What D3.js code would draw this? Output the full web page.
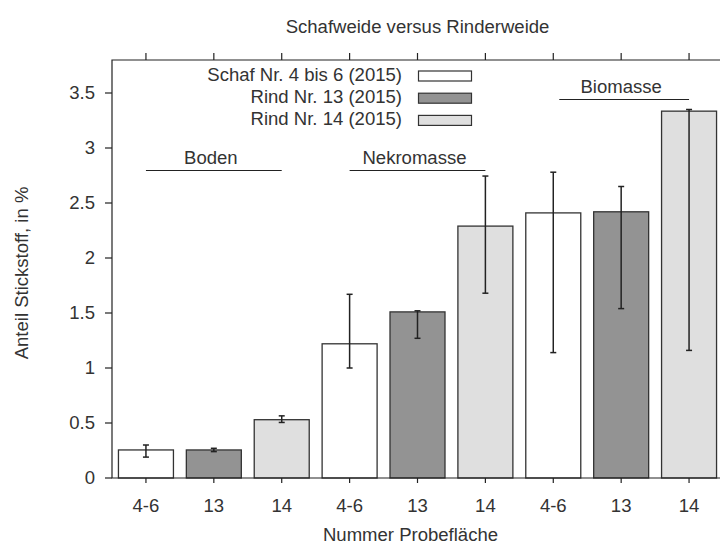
<!DOCTYPE html>
<html><head><meta charset="utf-8">
<script src="https://cdn.jsdelivr.net/npm/d3@7"></script>
<style>
html,body{margin:0;padding:0;background:#fff;}
text{font-family:"Liberation Sans",Arial,sans-serif;fill:#333;}
</style></head>
<body><svg id="chart" width="720" height="546"></svg>
<script>
const title = "Schafweide versus Rinderweide";
const xTitle = "Nummer Probefläche";
const yTitle = "Anteil Stickstoff, in %";
const categories = ["4-6","13","14","4-6","13","14","4-6","13","14"];
const seriesNames = ["Schaf Nr. 4 bis 6 (2015)","Rind Nr. 13 (2015)","Rind Nr. 14 (2015)"];
const seriesColors = ["#ffffff","#939393","#dfdfdf"];
const groupNames = ["Boden","Nekromasse","Biomasse"];
const values  = [0.255, 0.255, 0.53, 1.22, 1.51, 2.29, 2.41, 2.42, 3.335];
const errLow  = [0.19, 0.24, 0.505, 1.00, 1.27, 1.68, 1.14, 1.54, 1.16];
const errHigh = [0.30, 0.27, 0.565, 1.67, 1.52, 2.745, 2.78, 2.65, 3.35];
const yTicks = [0, 0.5, 1, 1.5, 2, 2.5, 3, 3.5];
const yTickLabels = ["0","0.5","1","1.5","2","2.5","3","3.5"];

const svg = d3.select("#chart");
const L = 112, R = 723, T = 60, B = 478;
const ids = categories.map((c,i)=>i);
const x = d3.scaleBand().domain(ids).range([L,R]).paddingInner(0.19).paddingOuter(0.095);
const y = d3.scaleLinear().domain([0,3.8]).range([B,T]);
const fs = 17.5, sx = 1.06;

function txt(px, py, str, anchor, rot){
  const g = svg.append("g").attr("transform",`translate(${px},${py})${rot?` rotate(${rot})`:""} scale(${sx},1)`);
  g.append("text").attr("text-anchor",anchor).attr("font-size",fs).text(str);
}

svg.append("rect").attr("width",720).attr("height",546).attr("fill","#fff");

// bars
svg.append("g").selectAll("rect").data(ids).join("rect")
  .attr("x", i=>x(i)).attr("width", x.bandwidth())
  .attr("y", i=>y(values[i])).attr("height", i=>y(0)-y(values[i]))
  .attr("fill", i=>seriesColors[i%3]).attr("stroke","#333").attr("stroke-width",1.3);

// error bars
const eg = svg.append("g").attr("stroke","#222").attr("stroke-width",1.5);
ids.forEach(i=>{
  const cx = x(i)+x.bandwidth()/2;
  eg.append("line").attr("x1",cx).attr("x2",cx).attr("y1",y(errLow[i])).attr("y2",y(errHigh[i]));
  eg.append("line").attr("x1",cx-3).attr("x2",cx+3).attr("y1",y(errLow[i])).attr("y2",y(errLow[i]));
  eg.append("line").attr("x1",cx-3).attr("x2",cx+3).attr("y1",y(errHigh[i])).attr("y2",y(errHigh[i]));
});

// frame & axes
const ax = svg.append("g").attr("stroke","#222").attr("stroke-width",1.2).attr("fill","none");
ax.append("path").attr("d",`M${R},${T}H${L}V${B}H${R}`);
yTicks.forEach((t,k)=>{
  ax.append("line").attr("x1",L-7).attr("x2",L).attr("y1",y(t)).attr("y2",y(t));
  txt(L-17, y(t)+6, yTickLabels[k], "end");
});
ids.forEach(i=>{
  const cx = x(i)+x.bandwidth()/2;
  ax.append("line").attr("x1",cx).attr("x2",cx).attr("y1",B).attr("y2",B+5);
  ax.append("line").attr("x1",cx).attr("x2",cx).attr("y1",T-7).attr("y2",T);
  txt(cx, 512, categories[i], "middle");
});

// group annotations
const gOff = [0, 0, 6];
groupNames.forEach((g,k)=>{
  const a = x(k*3)+x.bandwidth()/2 + gOff[k];
  const b = x(k*3+2)+x.bandwidth()/2;
  const ly = k===2 ? 99.5 : 170.5;
  svg.append("line").attr("x1",a).attr("x2",b).attr("y1",ly).attr("y2",ly)
    .attr("stroke","#222").attr("stroke-width",1.2);
  txt((a+b)/2-3, ly-7, g, "middle");
});

// legend
seriesNames.forEach((s,k)=>{
  const yy = 71 + k*22.2;
  svg.append("rect").attr("x",418.5).attr("y",yy).attr("width",53).attr("height",10)
    .attr("fill",seriesColors[k]).attr("stroke","#333").attr("stroke-width",1.2);
  txt(402, yy+9.5, s, "end");
});

// titles
txt((L+R)/2, 33, title, "middle");
txt((L+R)/2-7, 541, xTitle, "middle");
txt(28, (T+B)/2+4, yTitle, "middle", -90);
</script></body></html>
